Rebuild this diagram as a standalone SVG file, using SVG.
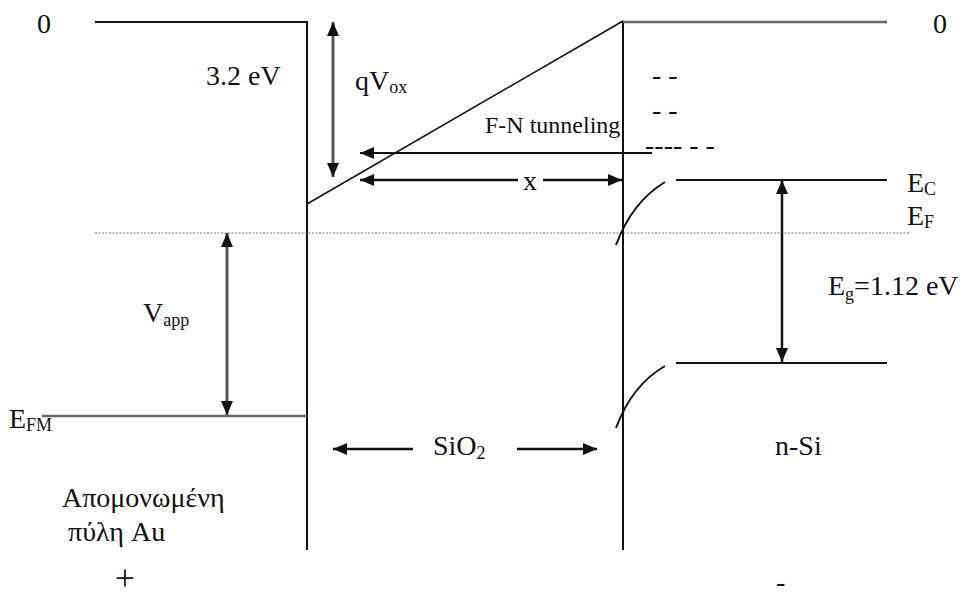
<svg xmlns="http://www.w3.org/2000/svg" width="966" height="598" viewBox="0 0 966 598">
<defs>
<style>
text{font-family:"Liberation Serif","Times New Roman",serif;fill:#111;font-size:28px}
.sub{font-size:18px}
.blk{stroke:#111;stroke-width:2;fill:none}
.gry{stroke:#666;stroke-width:2.5;fill:none}
.arr{stroke:#111;stroke-width:2.5;fill:none}
.garr{stroke:#555;stroke-width:3;fill:none}
</style>
<marker id="ah" viewBox="0 0 14 12" refX="14" refY="6" markerWidth="14" markerHeight="12" markerUnits="userSpaceOnUse" orient="auto-start-reverse">
<path d="M0,0 L14,6 L0,12 Z" fill="#111"/>
</marker>
</defs>
<g id="bands">
<line class="blk" x1="95" y1="22" x2="307" y2="22" stroke="#333"/>
<line class="blk" x1="307" y1="21" x2="307" y2="550"/>
<line class="blk" x1="623" y1="21" x2="623" y2="550"/>
<line class="gry" x1="623" y1="22" x2="887" y2="22" stroke="#888"/>
<line x1="307" y1="204" x2="623" y2="21" stroke="#111" stroke-width="1.6"/>
<line class="gry" x1="42" y1="416" x2="307" y2="416" stroke="#777" stroke-width="3"/>
<line x1="95" y1="233" x2="910" y2="233" stroke="#777" stroke-width="1.2" stroke-dasharray="2,1.5"/>
<line class="blk" x1="676" y1="180" x2="887" y2="180"/>
<line class="blk" x1="676" y1="363" x2="887" y2="363"/>
<path class="blk" d="M616,245 Q632,202 665,182" stroke-width="1.6" stroke="#333"/>
<path class="blk" d="M616,428 Q632,385 665,366" stroke-width="1.6" stroke="#333"/>
</g>
<g id="connectors">
<line class="garr" x1="333" y1="22" x2="333" y2="177" marker-start="url(#ah)" marker-end="url(#ah)"/>
<line class="garr" x1="227" y1="233" x2="227" y2="415" marker-start="url(#ah)" marker-end="url(#ah)"/>
<line class="arr" x1="782" y1="180" x2="782" y2="362" marker-start="url(#ah)" marker-end="url(#ah)"/>
<line x1="652" y1="153" x2="360" y2="153" stroke="#111" stroke-width="2" marker-end="url(#ah)"/>
<line class="arr" x1="518" y1="180" x2="360" y2="180" marker-end="url(#ah)"/>
<line class="arr" x1="543" y1="180" x2="622" y2="180" marker-end="url(#ah)"/>
<line class="arr" x1="413" y1="449" x2="333" y2="449" marker-end="url(#ah)"/>
<line class="arr" x1="517" y1="449" x2="597" y2="449" marker-end="url(#ah)"/>
</g>
<g id="labels" font-family="Liberation Serif, Times New Roman, serif">
<text x="37" y="33">0</text>
<text x="933" y="33">0</text>
<text x="206" y="85">3.2 eV</text>
<text x="355" y="90">qV<tspan class="sub" dy="3">ox</tspan></text>
<text x="485" y="133" style="font-size:24px">F-N tunneling</text>
<text x="523" y="190">x</text>
<text x="652" y="84">- -</text>
<text x="652" y="119">- -</text>
<text x="645" y="154">---- - -</text>
<text x="907" y="192">E<tspan class="sub" dy="3">C</tspan></text>
<text x="907" y="225">E<tspan class="sub" dy="3">F</tspan></text>
<text x="828" y="295">E<tspan class="sub" dy="5">g</tspan><tspan dy="-5">=1.12 eV</tspan></text>
<text x="143" y="322">V<tspan class="sub" dy="4">app</tspan></text>
<text x="9" y="428">E<tspan class="sub" dy="3">FM</tspan></text>
<text x="433" y="455">SiO<tspan class="sub" dy="4">2</tspan></text>
<text x="775" y="455">n-Si</text>
<text x="62" y="507">Απομονωμένη</text>
<text x="68" y="541">πύλη Au</text>
<text x="115" y="590" style="font-size:35px">+</text>
<text x="776" y="591">-</text>
</g>
</svg>
